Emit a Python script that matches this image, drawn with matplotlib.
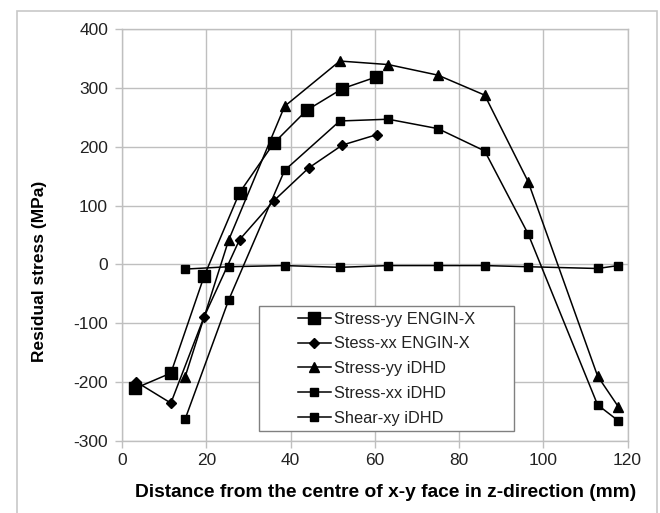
import matplotlib
matplotlib.use("Agg")
import matplotlib.pyplot as plt
from matplotlib.patches import Rectangle

plt.rcParams["font.family"] = ["Liberation Sans", "DejaVu Sans"]
plt.rcParams["axes.unicode_minus"] = False

# ── Data ────────────────────────────────────────────────────────────────────
yy_engin_x = [3.1, 11.6, 19.5, 27.9, 36.0, 43.8, 52.3, 60.4]
yy_engin_y = [-211, -185, -20, 122, 206, 262, 299, 319]

xx_engin_x = [3.4, 11.6, 19.5, 27.9, 36.0, 44.3, 52.3, 60.6]
xx_engin_y = [-200, -236, -89, 42, 108, 164, 203, 221]

idhd_x = [15.0, 25.3, 38.6, 51.7, 63.2, 75.0, 86.1, 96.4, 112.9, 117.8]
yy_idhd_y = [-191, 41, 269, 346, 340, 322, 288, 141, -190, -242]
xx_idhd_y = [-263, -61, 160, 244, 247, 231, 193, 52, -239, -266]
shear_idhd_y = [-8, -4, -2, -5, -2, -2, -2, -4, -7, -2]

x_ticks = [0, 20, 40, 60, 80, 100, 120]
y_ticks = [-300, -200, -100, 0, 100, 200, 300, 400]

fig = plt.figure(figsize=(6.6, 5.13), dpi=100)
W, H = 660, 513

# outer chart frame (Excel style)
fig.patches.append(Rectangle((17 / W, -0.01), 640 / W, 1 - 11 / H + 0.01,
                             transform=fig.transFigure, fill=False,
                             edgecolor="#c8c8c8", linewidth=1.2))

ax = fig.add_axes([122 / W, 1 - 440.7 / H, 505.5 / W, 411.4 / H])

line_kw = dict(color="black", linewidth=1.1)
ax.plot(yy_engin_x, yy_engin_y, marker="s", markersize=8, label="Stress-yy ENGIN-X", **line_kw)
ax.plot(xx_engin_x, xx_engin_y, marker="D", markersize=5, label="Stess-xx ENGIN-X", **line_kw)
ax.plot(idhd_x, yy_idhd_y, marker="^", markersize=7, label="Stress-yy iDHD", **line_kw)
ax.plot(idhd_x, xx_idhd_y, marker="s", markersize=5.5, label="Stress-xx iDHD", **line_kw)
ax.plot(idhd_x, shear_idhd_y, marker="s", markersize=5.5, label="Shear-xy iDHD", **line_kw)

ax.set_xlim(0, 120)
ax.set_ylim(-300, 400)
ax.set_xticks(x_ticks)
ax.set_yticks(y_ticks)
ax.grid(True, color="#bfbfbf", linewidth=1.0)
ax.set_axisbelow(True)
for s in ax.spines.values():
    s.set_color("#bfbfbf")
    s.set_linewidth(1.0)
ax.tick_params(colors="#bfbfbf", labelcolor="#222222", labelsize=12.5,
               length=5, width=1.0)
ax.tick_params(axis="y", pad=5)

ax.set_xlabel("Distance from the centre of x-y face in z-direction (mm)",
              fontsize=13.8, fontweight="bold", labelpad=12)
ax.xaxis.label.set_x(0.522)
fig.text(40 / W, 1 - 271 / H, "Residual stress (MPa)", rotation=90,
         ha="center", va="center", fontsize=12.5, fontweight="bold")

# legend: separate white frame, entries indented like the Excel original
ax.add_patch(Rectangle((0.271, 0.0243), 0.504, 0.302, transform=ax.transAxes,
                       facecolor="white", edgecolor="#808080", linewidth=1.0,
                       zorder=4))
leg = ax.legend(loc="center left", bbox_to_anchor=(0.332, 0.175),
                fontsize=11.8, handlelength=2.0, handletextpad=0.2,
                labelspacing=0.6, borderpad=0, frameon=False)
for t in leg.get_texts():
    t.set_color("#222222")

fig.savefig("out.png", dpi=100)
